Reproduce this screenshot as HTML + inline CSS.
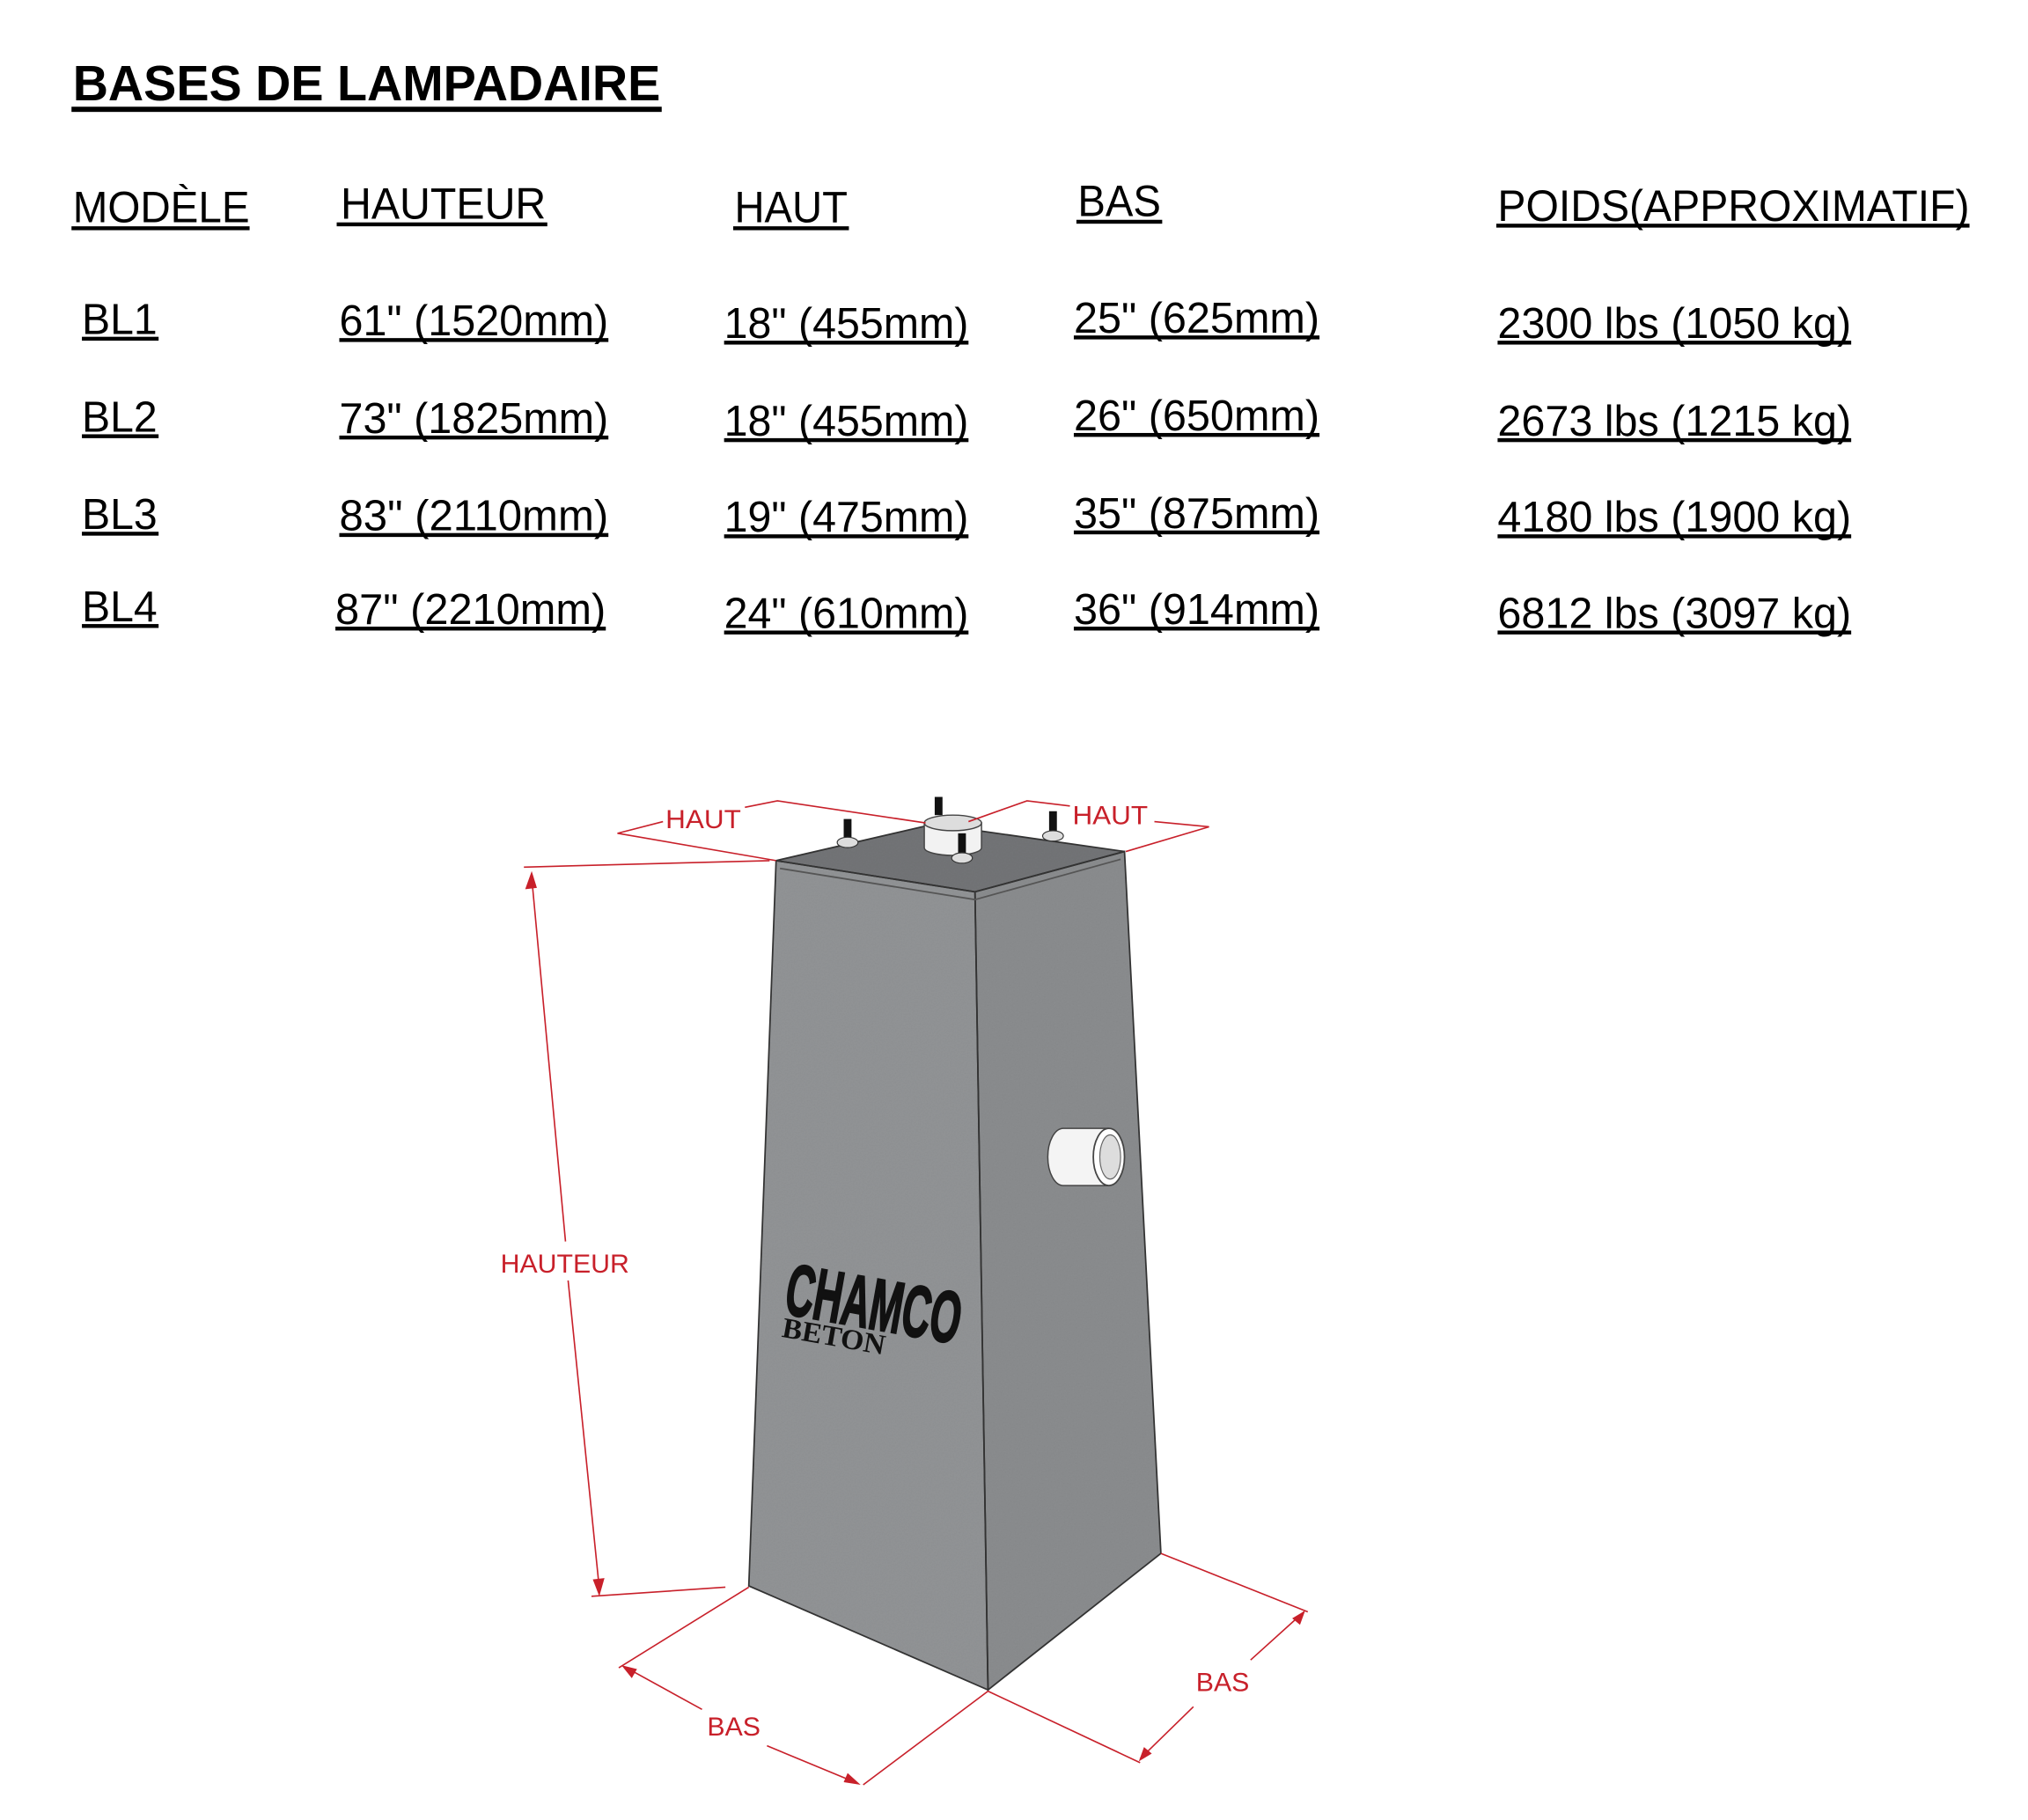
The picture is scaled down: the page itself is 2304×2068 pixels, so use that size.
<!DOCTYPE html>
<html><head><meta charset="utf-8"><style>
html,body{margin:0;padding:0;background:#fff;}
svg{display:block;}
</style></head><body>
<svg width="2304" height="2068" viewBox="0 0 1560 1400" xmlns="http://www.w3.org/2000/svg" font-family="Liberation Sans, Arial, sans-serif">
<defs>
<filter id="n" x="0" y="0" width="100%" height="100%">
<feTurbulence type="fractalNoise" baseFrequency="0.9" numOctaves="2" result="t"/>
<feColorMatrix type="saturate" values="0" in="t" result="g"/>
<feComponentTransfer in="g" result="g2"><feFuncA type="linear" slope="0" intercept="0.12"/></feComponentTransfer>
<feComposite in="g2" in2="SourceGraphic" operator="in" result="c"/>
<feBlend in="SourceGraphic" in2="c" mode="multiply"/>
</filter>
</defs>
<rect width="1560" height="1400" fill="#fff"/>
<text x="56" y="77" font-size="38" font-weight="bold" textLength="452" lengthAdjust="spacingAndGlyphs">BASES DE LAMPADAIRE</text>
<rect x="55" y="82" width="454" height="4" fill="#000"/>
<g font-size="34" fill="#000">
<text x="56" y="171" textLength="136" lengthAdjust="spacingAndGlyphs">MODÈLE</text>
<text x="262" y="168" textLength="158" lengthAdjust="spacingAndGlyphs">HAUTEUR</text>
<text x="565" y="171" textLength="87" lengthAdjust="spacingAndGlyphs">HAUT</text>
<text x="829" y="166" textLength="64" lengthAdjust="spacingAndGlyphs">BAS</text>
<text x="1152" y="170" textLength="363" lengthAdjust="spacingAndGlyphs">POIDS(APPROXIMATIF)</text>
</g>
<g fill="#000">
<rect x="55" y="174" width="137" height="3"/>
<rect x="259" y="171" width="162" height="3"/>
<rect x="564" y="174" width="89" height="3"/>
<rect x="828" y="169" width="66" height="3"/>
<rect x="1151" y="172" width="364" height="3"/>
</g>
<g font-size="33" fill="#000">
<text x="63" y="257" textLength="58" lengthAdjust="spacingAndGlyphs">BL1</text>
<text x="261" y="258" textLength="207" lengthAdjust="spacingAndGlyphs">61" (1520mm)</text>
<text x="557" y="260" textLength="188" lengthAdjust="spacingAndGlyphs">18" (455mm)</text>
<text x="826" y="256" textLength="189" lengthAdjust="spacingAndGlyphs">25" (625mm)</text>
<text x="1152" y="260" textLength="272" lengthAdjust="spacingAndGlyphs">2300 lbs (1050 kg)</text>

<text x="63" y="332" textLength="58" lengthAdjust="spacingAndGlyphs">BL2</text>
<text x="261" y="333" textLength="207" lengthAdjust="spacingAndGlyphs">73" (1825mm)</text>
<text x="557" y="335" textLength="188" lengthAdjust="spacingAndGlyphs">18" (455mm)</text>
<text x="826" y="331" textLength="189" lengthAdjust="spacingAndGlyphs">26" (650mm)</text>
<text x="1152" y="335" textLength="272" lengthAdjust="spacingAndGlyphs">2673 lbs (1215 kg)</text>

<text x="63" y="407" textLength="58" lengthAdjust="spacingAndGlyphs">BL3</text>
<text x="261" y="408" textLength="207" lengthAdjust="spacingAndGlyphs">83" (2110mm)</text>
<text x="557" y="409" textLength="188" lengthAdjust="spacingAndGlyphs">19" (475mm)</text>
<text x="826" y="406" textLength="189" lengthAdjust="spacingAndGlyphs">35" (875mm)</text>
<text x="1152" y="409" textLength="272" lengthAdjust="spacingAndGlyphs">4180 lbs (1900 kg)</text>

<text x="63" y="478" textLength="58" lengthAdjust="spacingAndGlyphs">BL4</text>
<text x="258" y="480" textLength="208" lengthAdjust="spacingAndGlyphs">87" (2210mm)</text>
<text x="557" y="483" textLength="188" lengthAdjust="spacingAndGlyphs">24" (610mm)</text>
<text x="826" y="480" textLength="189" lengthAdjust="spacingAndGlyphs">36" (914mm)</text>
<text x="1152" y="483" textLength="272" lengthAdjust="spacingAndGlyphs">6812 lbs (3097 kg)</text>
</g>
<g fill="#000">
<rect x="63" y="259" width="59" height="3"/><rect x="261" y="260" width="207" height="3"/><rect x="557" y="262" width="188" height="3"/><rect x="826" y="258" width="189" height="3"/><rect x="1152" y="262" width="272" height="3"/>
<rect x="63" y="334" width="59" height="3"/><rect x="261" y="335" width="207" height="3"/><rect x="557" y="337" width="188" height="3"/><rect x="826" y="333" width="189" height="3"/><rect x="1152" y="337" width="272" height="3"/>
<rect x="63" y="409" width="59" height="3"/><rect x="261" y="410" width="207" height="3"/><rect x="557" y="411" width="188" height="3"/><rect x="826" y="408" width="189" height="3"/><rect x="1152" y="411" width="272" height="3"/>
<rect x="63" y="480" width="59" height="3"/><rect x="258" y="482" width="208" height="3"/><rect x="557" y="485" width="188" height="3"/><rect x="826" y="482" width="189" height="3"/><rect x="1152" y="485" width="272" height="3"/>
</g>

<g filter="url(#n)">
<polygon points="597,662 750,686 760,1300 576,1220" fill="#939597"/>
<polygon points="750,686 865,655 893,1195 760,1300" fill="#8c8e90"/>
<polygon points="597,662 718,634 865,655 750,686" fill="#747678"/>
</g>
<g fill="none" stroke="#333" stroke-width="1.2">
<polygon points="597,662 750,686 760,1300 576,1220"/>
<polygon points="750,686 865,655 893,1195 760,1300"/>
<polygon points="597,662 718,634 865,655 750,686"/>
<polyline points="600,668 750,692 862,661" stroke="#555"/>
</g>
<path d="M818,868 L852,868 A12,22 0 0 1 852,912 L818,912 A12,22 0 0 1 818,868 Z" fill="#f4f4f4" stroke="#444" stroke-width="1"/>
<ellipse cx="853" cy="890" rx="12" ry="22" fill="#fff" stroke="#444" stroke-width="1.2"/>
<ellipse cx="854" cy="890" rx="8" ry="17" fill="#ddd" stroke="#666" stroke-width="0.8"/>
<path d="M711,633 L711,652 A22,6 0 0 0 755,652 L755,633 Z" fill="#f2f2f2" stroke="#444" stroke-width="1"/>
<ellipse cx="733" cy="633" rx="22" ry="6" fill="#ddd" stroke="#444" stroke-width="1"/>
<g fill="#111">
<rect x="649" y="630" width="6" height="16"/><rect x="719" y="613" width="6" height="14"/><rect x="737" y="641" width="6" height="16"/><rect x="807" y="624" width="6" height="16"/>
</g>
<g fill="#ddd" stroke="#333" stroke-width="0.8">
<ellipse cx="652" cy="648" rx="8" ry="4"/><ellipse cx="740" cy="660" rx="8" ry="4"/><ellipse cx="810" cy="643" rx="8" ry="4"/>
</g>
<g transform="rotate(10 670 1010)">
<text x="603" y="1022" font-size="56" font-weight="bold" fill="#111" stroke="#111" stroke-width="1.5" textLength="136" lengthAdjust="spacingAndGlyphs">CHAMCO</text>
<text x="605" y="1040" font-size="22" font-weight="bold" fill="#111" textLength="80" lengthAdjust="spacingAndGlyphs" font-family="Liberation Serif, serif">BETON</text>
</g>

<g stroke="#c8202a" stroke-width="1.1" fill="none">
<line x1="403" y1="667" x2="592" y2="662"/>
<line x1="455" y1="1228" x2="558" y2="1221"/>
<line x1="409" y1="675" x2="435" y2="955"/>
<line x1="437" y1="985" x2="461" y2="1222"/>
<polyline points="597,662 475,641 510,632"/>
<polyline points="573,621 598,616 712,633"/>
<polyline points="745,632 790,616 823,620"/>
<polyline points="888,632 930,636 866,655"/>
<line x1="576" y1="1221" x2="476" y2="1283"/>
<line x1="760" y1="1301" x2="664" y2="1373"/>
<line x1="480" y1="1282" x2="540" y2="1315"/>
<line x1="590" y1="1343" x2="660" y2="1372"/>
<line x1="893" y1="1195" x2="1006" y2="1240"/>
<line x1="760" y1="1301" x2="877" y2="1356"/>
<line x1="1003" y1="1240" x2="962" y2="1277"/>
<line x1="918" y1="1313" x2="877" y2="1353"/>
</g>
<g fill="#c8202a">
<polygon points="409,670 404,684 413,683"/>
<polygon points="461,1228 456,1215 465,1214"/>
<polygon points="478,1281 490,1284 486,1291"/>
<polygon points="662,1373 649,1371 652,1364"/>
<polygon points="1004,1239 1000,1250 994,1245"/>
<polygon points="876,1355 880,1344 886,1349"/>
</g>
<g fill="#c8202a" font-size="20">
<text x="385" y="979" textLength="99" lengthAdjust="spacingAndGlyphs">HAUTEUR</text>
<text x="512" y="637" textLength="58" lengthAdjust="spacingAndGlyphs">HAUT</text>
<text x="825" y="634" textLength="58" lengthAdjust="spacingAndGlyphs">HAUT</text>
<text x="544" y="1335" textLength="41" lengthAdjust="spacingAndGlyphs">BAS</text>
<text x="920" y="1301" textLength="41" lengthAdjust="spacingAndGlyphs">BAS</text>
</g>
</svg>
</body></html>
